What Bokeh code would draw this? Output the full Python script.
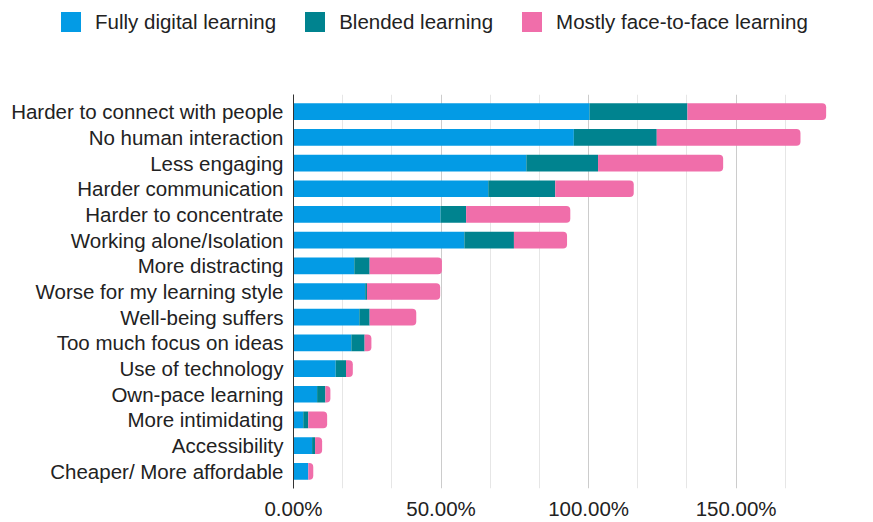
from bokeh.plotting import figure
from bokeh.layouts import column
from bokeh.models import FactorRange, Range1d, FixedTicker, PrintfTickFormatter, Legend, LegendItem
from bokeh.embed import file_html
from bokeh.resources import INLINE

categories = [
    "Harder to connect with people",
    "No human interaction",
    "Less engaging",
    "Harder communication",
    "Harder to concentrate",
    "Working alone/Isolation",
    "More distracting",
    "Worse for my learning style",
    "Well-being suffers",
    "Too much focus on ideas",
    "Use of technology",
    "Own-pace learning",
    "More intimidating",
    "Accessibility",
    "Cheaper/ More affordable",
]
fully_digital = [100.3, 95.0, 78.9, 66.0, 49.8, 57.9, 20.6, 24.3, 22.3, 19.6, 14.3, 8.0, 3.3, 6.3, 5.0]
blended = [33.2, 28.1, 24.3, 22.7, 8.7, 16.8, 5.2, 0.6, 3.5, 4.5, 3.5, 2.8, 1.7, 1.0, 0.0]
face_to_face = [47.0, 48.7, 42.4, 26.6, 35.3, 18.0, 24.5, 24.8, 15.8, 2.3, 2.3, 1.7, 6.4, 2.4, 1.7]
series_names = ["Fully digital learning", "Blended learning", "Mostly face-to-face learning"]
major_ticks = [0, 50, 100, 150]
minor_ticks = [50 / 3 * k for k in range(1, 12) if k % 3 != 0]
x_max = 550 / 3

colors = ["#039BE5", "#00838F", "#F06EAA"]
FONT = "Liberation Sans"
TXT = "#222222"

data = dict(cat=categories, a=fully_digital, b=blended, c=face_to_face)

# ---- main chart ----
p = figure(
    width=873, height=428,
    y_range=FactorRange(factors=list(reversed(categories)), range_padding=0.0227),
    x_range=Range1d(0, x_max),
    output_backend="svg", toolbar_location=None,
    min_border_left=293, min_border_right=39, min_border_top=0, min_border_bottom=32,
)
p.outline_line_color = None

renderers = p.hbar_stack(["a", "b", "c"], y="cat", height=0.65, source=data,
                         color=colors, line_color=None)
renderers[2].glyph.border_radius = (0, 4, 4, 0)

ticker = FixedTicker(ticks=major_ticks, minor_ticks=minor_ticks)
p.xaxis.ticker = ticker
p.xgrid.ticker = ticker
p.xaxis.formatter = PrintfTickFormatter(format="%.2f%%")
p.xgrid.grid_line_color = "#cccccc"
p.xgrid.minor_grid_line_color = "#e6e6e6"
p.ygrid.grid_line_color = None

for ax in (p.xaxis, p.yaxis):
    ax.major_tick_line_color = None
    ax.minor_tick_line_color = None
    ax.major_tick_out = 0
    ax.major_tick_in = 0
    ax.minor_tick_out = 0
    ax.minor_tick_in = 0
    ax.major_label_text_font = FONT
    ax.major_label_text_font_size = "20.5px"
    ax.major_label_text_color = TXT

p.xaxis.axis_line_color = None
p.xaxis.major_label_standoff = 8
p.yaxis.axis_line_color = "#333333"
p.yaxis.major_label_standoff = 10

# ---- legend strip above the chart ----
lf = figure(
    width=873, height=94, x_range=Range1d(0, 1), y_range=Range1d(0, 1),
    output_backend="svg", toolbar_location=None,
    x_axis_location=None, y_axis_location=None,
    min_border_left=0, min_border_right=0, min_border_top=0, min_border_bottom=0,
)
lf.frame_align = False
lf.outline_line_color = None
lf.xgrid.grid_line_color = None
lf.ygrid.grid_line_color = None
# legend swatch renderers: their single bar lies outside the strip's visible range
swatches = [lf.hbar(y=[-10], right=[1], height=0.5, color=c, line_color=None) for c in colors]

items = [LegendItem(label=n, renderers=[r]) for n, r in zip(series_names, swatches)]
lg = Legend(items=items)
lg.orientation = "horizontal"
lg.location = (58, 60)
lg.padding = 0
lg.margin = 0
lg.border_line_color = None
lg.background_fill_alpha = 0
lg.glyph_width = 25
lg.glyph_height = 25
lg.label_height = 20
lg.label_standoff = 12
lg.spacing = 26
lg.label_text_font = FONT
lg.label_text_font_size = "20.5px"
lg.label_text_color = TXT
lf.add_layout(lg, "center")

layout = column(lf, p, spacing=0)
open("out.html", "w").write(file_html(layout, INLINE))
